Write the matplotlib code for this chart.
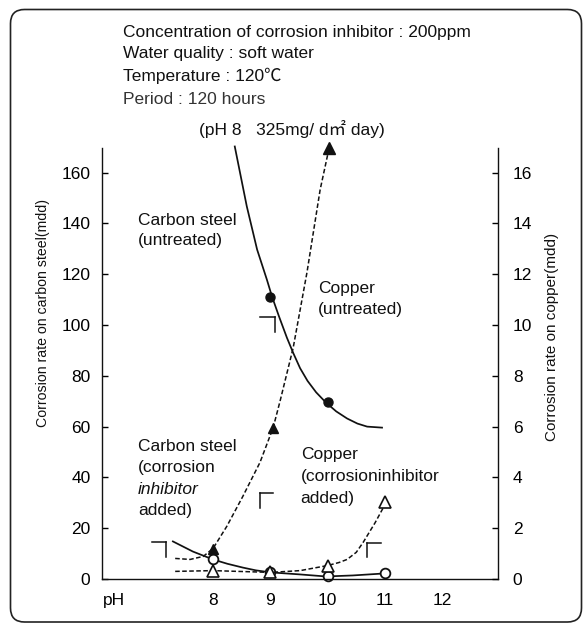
import numpy as np
import matplotlib
matplotlib.use("Agg")
import matplotlib.pyplot as plt
from matplotlib.patches import FancyBboxPatch
from matplotlib.transforms import IdentityTransform

plt.rcParams['font.family'] = ['Liberation Sans', 'Noto Sans CJK JP', 'DejaVu Sans']

# --- values ---
# carbon steel, untreated (left axis, mdd)
cs_raw_ph = [8.38, 8.59, 8.77, 8.94, 9.03, 9.15, 9.29, 9.40, 9.52, 9.65, 9.80, 9.97, 10.15, 10.34, 10.52, 10.69, 10.95]
cs_raw_val = [170.3, 146.7, 129.7, 117.9, 111.2, 103.5, 95.0, 89.0, 83.0, 78.0, 73.5, 69.5, 66.0, 63.2, 61.2, 60.0, 59.6]
cs_raw_mk_ph = [9, 10]
cs_raw_mk_val = [111, 69.5]

# copper, untreated (right axis, mdd)
cu_raw_ph = [7.34, 7.60, 7.83, 8.00, 8.24, 8.52, 8.82, 9.05, 9.17, 9.40, 9.64, 9.87, 10.02]
cu_raw_val = [0.81, 0.77, 0.89, 1.20, 2.07, 3.25, 4.59, 5.96, 7.00, 9.11, 12.07, 15.33, 16.9]
cu_raw_mk_ph = [8, 9.04]
cu_raw_mk_val = [1.2, 5.95]
cu_off_ph = 10.03      # off-scale point, drawn as arrow head at the top
cu_off_val = 16.97

# carbon steel, inhibitor added (left axis)
cs_inh_ph = [7.30, 7.65, 8.00, 8.25, 8.52, 8.75, 9.01, 9.52, 9.97, 10.44, 11.0]
cs_inh_val = [14.8, 10.8, 7.7, 6.0, 4.5, 3.4, 2.6, 1.8, 1.0, 1.4, 2.2]
cs_inh_mk_ph = [8, 9, 10, 11]
cs_inh_mk_val = [7.7, 2.6, 1.0, 2.2]

# copper, inhibitor added (right axis)
cu_inh_ph = [7.34, 8.00, 9.01, 9.52, 10.0, 10.20, 10.34, 10.50, 10.62, 10.83, 11.03]
cu_inh_val = [0.30, 0.33, 0.26, 0.33, 0.53, 0.65, 0.77, 1.05, 1.44, 2.22, 3.05]
cu_inh_mk_ph = [8, 9, 10, 11]
cu_inh_mk_val = [0.33, 0.26, 0.53, 3.05]

x_ticks = [6.28, 8, 9, 10, 11, 12]
x_labels = ['pH', '8', '9', '10', '11', '12']
left_ticks = list(range(0, 161, 20))
right_ticks = list(range(0, 17, 2))

header = ["Concentration of corrosion inhibitor : 200ppm",
          "Water quality : soft water",
          "Temperature : 120\u2103",
          "Period : 120 hours"]

W, H = 587, 624
FS = 12.5
DASH = (0, (3, 1.6))

fig = plt.figure(figsize=(W / 100, H / 100), dpi=100)
fig.patch.set_facecolor('white')

def px(x, y):
    return x / W, 1 - y / H

ax = fig.add_axes([102 / W, 1 - 579 / H, (497.5 - 102) / W, (579 - 148) / H])
ax2 = ax.twinx()

ax.set_xlim(6.063, 12.965)
ax.set_ylim(0, 169.7)
ax2.set_ylim(0, 16.97)

for a in (ax, ax2):
    a.spines['top'].set_visible(False)
    for s in a.spines.values():
        s.set_linewidth(1.0)
        s.set_color('#111')
ax2.spines['left'].set_visible(False)
ax2.spines['bottom'].set_visible(False)
ax.spines['right'].set_visible(False)

ax.set_yticks(left_ticks)
ax2.set_yticks(right_ticks)
ax.set_xticks(x_ticks, x_labels)
ax.tick_params(axis='x', length=0, pad=10, labelsize=FS)
ax.tick_params(axis='y', direction='in', length=4, width=1, pad=8.3, labelsize=FS)
ax2.tick_params(axis='y', direction='in', length=4, width=1, pad=11, labelsize=FS)

# curves
k = '#111'
ax.plot(cs_raw_ph, cs_raw_val, color=k, lw=1.25, clip_on=False)
ax.plot(cs_raw_mk_ph, cs_raw_mk_val, 'o', color=k, ms=6.5, clip_on=False)

ax2.plot(cu_raw_ph, cu_raw_val, color=k, lw=1.1, ls=DASH, clip_on=False)
ax2.plot(cu_raw_mk_ph, cu_raw_mk_val, '^', color=k, ms=7.5, clip_on=False)
ax2.plot([cu_off_ph], [cu_off_val], '^', color=k, ms=8, clip_on=False)

ax.plot(cs_inh_ph, cs_inh_val, color=k, lw=1.25, clip_on=False)
ax2.plot(cu_inh_ph, cu_inh_val, color=k, lw=1.1, ls=DASH, clip_on=False)
ax2.plot(cu_inh_mk_ph, cu_inh_mk_val, '^', mfc='white', mec=k, mew=1.2, ms=8.5, clip_on=False)
ax.plot(cs_inh_mk_ph, cs_inh_mk_val, 'o', mfc='white', mec=k, mew=1.3, ms=7, clip_on=False)

# axis-reference brackets (┐ carbon steel / left, ┌ copper / right)
brackets = [
    ((6.94, 7.18), (14.4, 8.5), 'right'),
    ((8.82, 9.08), (103.0, 97.4), 'right'),
    ((8.82, 9.05), (33.7, 28.1), 'left'),
    ((10.69, 10.93), (14.0, 8.5), 'left'),
]
for (x0, x1), (ytop, ybot), side in brackets:
    xv = x1 if side == 'right' else x0
    ax.plot([x0, x1], [ytop, ytop], color=k, lw=1.1)
    ax.plot([xv, xv], [ytop, ybot], color=k, lw=1.1)

# texts
def put_lines(x, baselines, lines, styles=None, **kw):
    for i, (yb, s) in enumerate(zip(baselines, lines)):
        st = styles[i] if styles else 'normal'
        fig.text(*px(x, yb), s, ha='left', va='baseline', fontsize=FS,
                 fontstyle=st, **kw)

put_lines(123, [37.3, 58.3, 81.5], header[:3], color='#111')
put_lines(123, [104], header[3:], color='#333')
fig.text(*px(199, 135), "(pH 8   325mg/ d\u33a1 day)", ha='left', va='baseline',
         fontsize=FS, color='#111')

put_lines(138, [225, 245], ["Carbon steel", "(untreated)"], color='#111')
put_lines(318, [293, 314], ["Copper", "(untreated)"], color='#111')
put_lines(138, [450.7, 472, 494, 515],
          ["Carbon steel", "(corrosion", "inhibitor", "added)"],
          styles=['normal', 'normal', 'italic', 'normal'], color='#111')
put_lines(300.7, [459, 481, 503],
          ["Copper", "(corrosioninhibitor", "added)"], color='#111')

fig.text(*px(43, 313), "Corrosion rate on carbon steel(mdd)", rotation=90,
         ha='center', va='center', fontsize=10.2, color='#111')
fig.text(*px(552, 337), "Corrosion rate on copper(mdd)", rotation=90,
         ha='center', va='center', fontsize=11, color='#111')

# rounded frame around the whole figure
frame = FancyBboxPatch((10.5, H - 622), 571, 612.5,
                       boxstyle="round,pad=0,rounding_size=14",
                       transform=IdentityTransform(), fill=False,
                       edgecolor='#222', linewidth=1.2)
fig.patches.append(frame)

fig.savefig("out.png", dpi=100)
